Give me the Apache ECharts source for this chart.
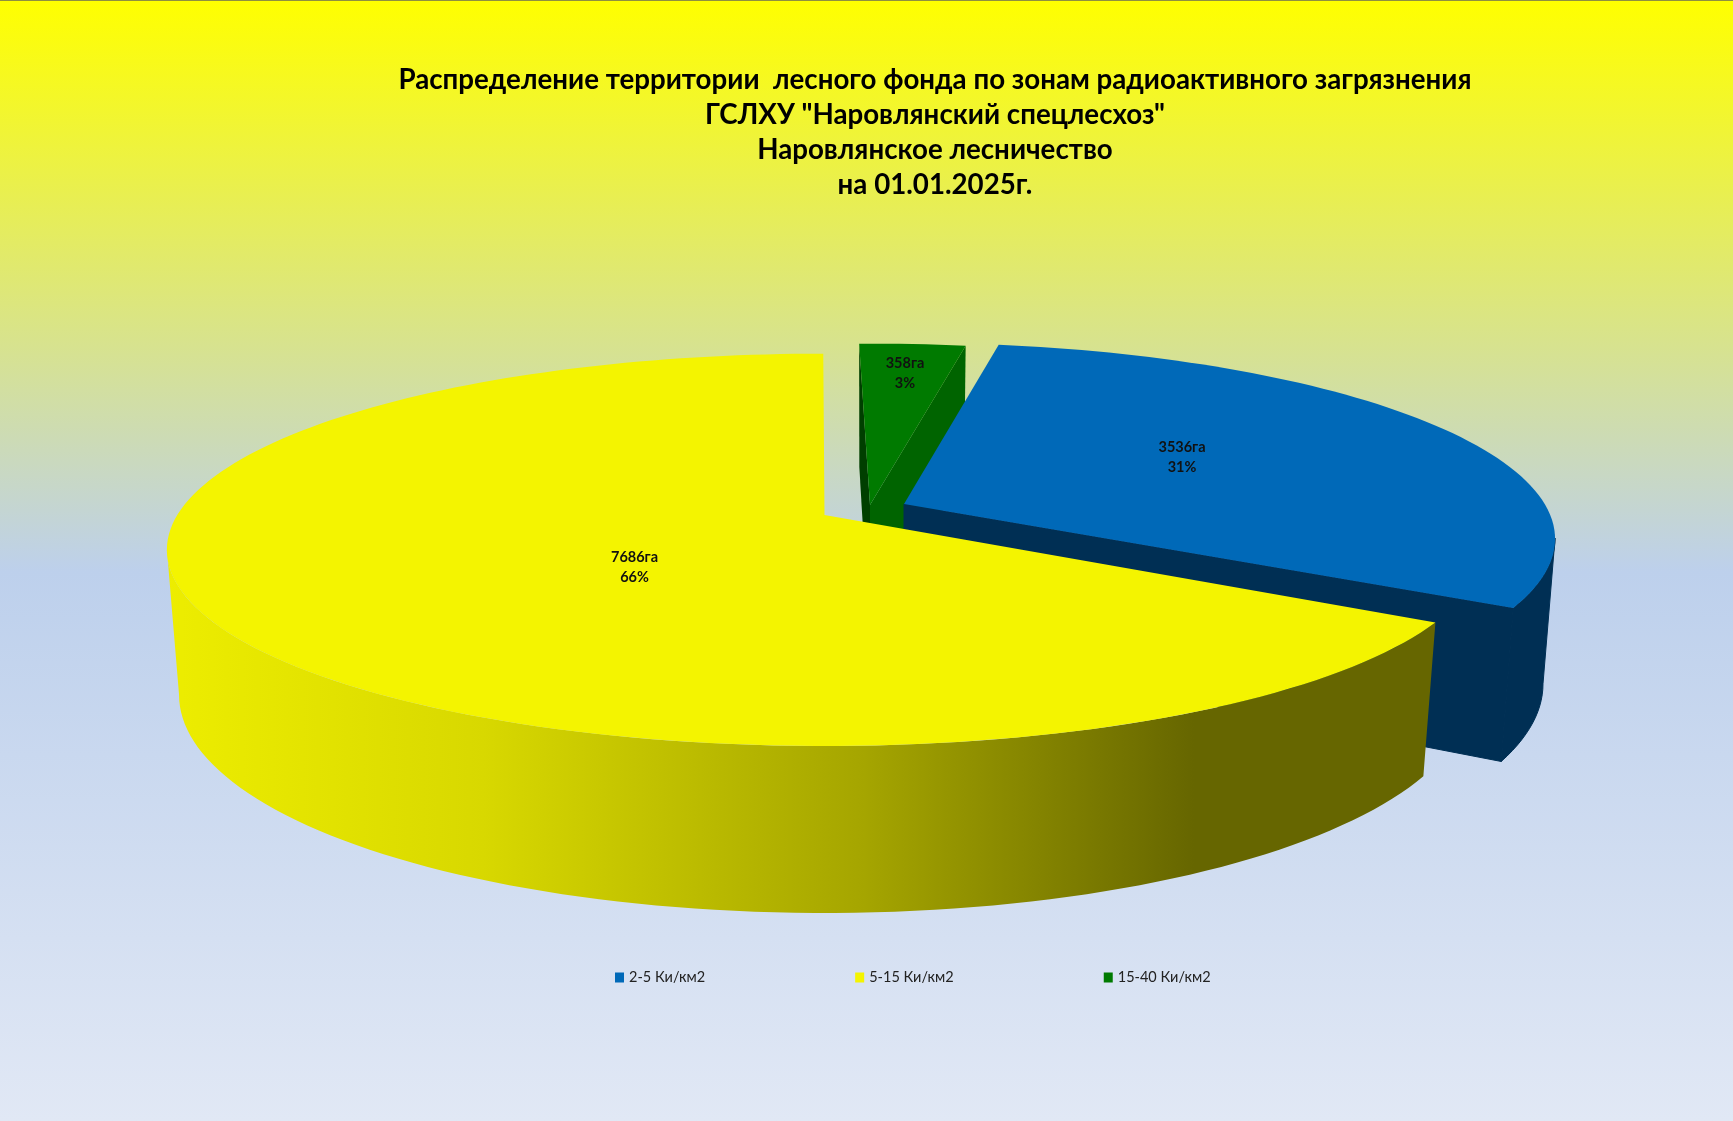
<!DOCTYPE html>
<html><head><meta charset="utf-8">
<style>html,body{margin:0;padding:0;background:#fff}#c{width:1733px;height:1121px}</style>
<script src="https://cdn.jsdelivr.net/npm/echarts@6/dist/echarts.min.js"></script>
</head><body><div id="c"></div>
<script>
const categories = ['2-5 Ки/км2', '5-15 Ки/км2', '15-40 Ки/км2'];
const hectares = [3536, 7686, 358];
const titleLines = ['Распределение территории  лесного фонда по зонам радиоактивного загрязнения', 'ГСЛХУ "Наровлянский спецлесхоз"', 'Наровлянское лесничество', 'на 01.01.2025г.'];
const unit = 'га';
const firstSliceAngle = 10;

// drawing styles and the 3D projection of the disc
const colours = ['#0069B8', '#F4F400', '#007A00'];
const wallColours = ['#002F54', null, '#006400'];
const sideColour = '#003F00';
const A = 647.2, B = 190, H = 144.6, K = 0.1775, M = 0.0183;
const apexes = [[904, 504], [824.5, 515], [870, 505]];
const labelOffsets = [[278, -47], [-190, 52], [35, -132]];
const widthScale = [0.99, 1, 1];
const angleShift = [0, 1, 0];

const total = hectares.reduce((a, b) => a + b, 0);
function project(i, deg, r, h) {
  const apex = apexes[i];
  const t = deg * Math.PI / 180;
  const u = r * Math.sin(t), v = -r * Math.cos(t);
  const w = 1 - K * v + M * h;
  return [apex[0] + widthScale[i] * A * u / w, apex[1] + (B * v + H * h) / w];
}
function arc(i, a0, a1, h) {
  const pts = [], n = Math.max(2, Math.ceil(Math.abs(a1 - a0) / 1.5));
  for (let j = 0; j <= n; j++) pts.push(project(i, a0 + (a1 - a0) * j / n, 1, h));
  return pts;
}
function renderSlice(i) {
  return function (params, api) {
    const val = api.value(0);
    let start = firstSliceAngle + angleShift[i];
    for (let j = 0; j < i; j++) start += hectares[j] / total * 360;
    const end = start + val / total * 360;
    const apex = apexes[i];
    const kids = [];
    const poly = (points, fill, stroke) => kids.push({ type: 'polygon', shape: { points }, style: { fill, stroke: stroke || null, lineWidth: stroke ? 1 : 0 } });
    const topFace = [project(i, 0, 0, 0)].concat(arc(i, start, end, 0));
    if (i === 0) {
      poly(arc(i, 100, end, 0).concat(arc(i, end, 100, 1)), wallColours[0], wallColours[0]);
      poly([project(i, end, 0, 0), project(i, end, 1, 0), project(i, end, 1, 1), project(i, end, 0, 1)], wallColours[0], wallColours[0]);
    } else if (i === 1) {
      const grad = new echarts.graphic.LinearGradient(0, 0, 1, 0, [
        { offset: 0, color: '#EDED00' },
        { offset: 0.25, color: '#D8D800' },
        { offset: 0.55, color: '#A5A500' },
        { offset: 0.81, color: '#666600' },
        { offset: 1, color: '#666600' }
      ]);
      poly(arc(i, start, 260, 0).concat(arc(i, 260, start, 1)), grad);
    } else {
      poly([project(i, start, 1, 0), project(i, start, 1, 1), project(i, start, 0, 1), project(i, start, 0, 0)], sideColour);
      poly([project(i, end, 1, 0), project(i, end, 1, 1), project(i, end, 0, 1), project(i, end, 0, 0)], wallColours[2]);
    }
    poly(topFace, colours[i]);
    kids.push({
      type: 'text',
      style: {
        text: val + unit + '\n' + Math.round(val / total * 100) + '%',
        x: apex[0] + labelOffsets[i][0], y: apex[1] + labelOffsets[i][1],
        align: 'center', verticalAlign: 'middle',
        font: 'bold 14.5px Lato', lineHeight: 20, fill: '#111'
      }
    });
    return { type: 'group', children: kids };
  };
}
const adjust = i => ({ 0: 2, 1: 3, 2: 1 })[i];
const chart = echarts.init(document.getElementById('c'), null, { renderer: 'canvas' });
chart.setOption({
  animation: false,
  backgroundColor: new echarts.graphic.LinearGradient(0, 0, 0, 1, [
    { offset: 0, color: '#FFFF00' },
    { offset: 0.51, color: '#BDD0EC' },
    { offset: 1, color: '#E1E8F5' }
  ]),
  title: {
    text: titleLines.join('\n'),
    left: 930, top: 57, textAlign: 'center',
    textStyle: { fontFamily: 'Lato', fontWeight: 'bold', fontSize: 27.7, lineHeight: 35.3, color: '#000' }
  },
  legend: {
    data: categories, left: 610, top: 965, itemWidth: 9, itemHeight: 10, itemGap: 150,
    icon: 'rect',
    textStyle: { fontFamily: 'Lato', fontSize: 14.5, color: '#222' }
  },
  graphic: [{ type: 'rect', shape: { x: 0, y: 0, width: 1733, height: 1 }, style: { fill: '#8F8F40' } }],
  series: categories.map((name, i) => ({
    type: 'custom', name, coordinateSystem: 'none', z: adjust(i),
    itemStyle: { color: colours[i] },
    data: [[hectares[i]]],
    renderItem: renderSlice(i)
  }))
});
</script></body></html>
